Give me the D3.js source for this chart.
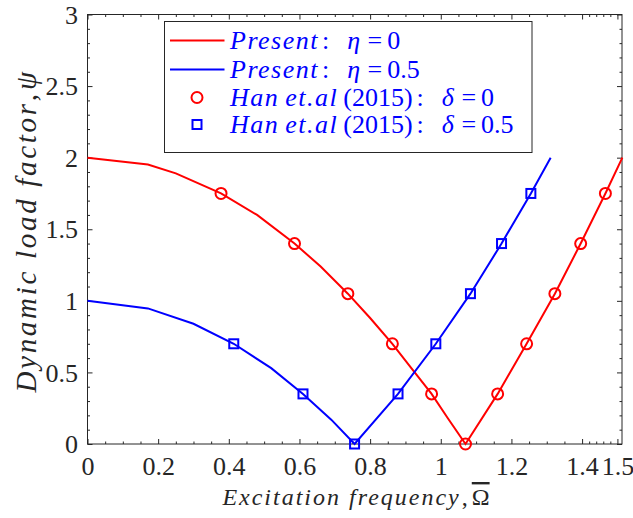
<!DOCTYPE html>
<html>
<head>
<meta charset="utf-8">
<script src="https://cdn.jsdelivr.net/npm/d3@7"></script>
<style>
  body { margin: 0; background: #fff; }
  svg { display: block; }
</style>
</head>
<body>
<div id="chart"></div>
<script>
const width = 633, height = 518;
const margin = { top: 14.5, right: 11, bottom: 74, left: 87.5 };

// data
const redLineX = [0, 0.171, 0.25, 0.378, 0.48, 0.586, 0.66, 0.737, 0.80, 0.863, 0.92, 0.974, 1.02, 1.07, 1.161, 1.243, 1.323, 1.396, 1.466, 1.514];
const redLineY = [2, 1.952, 1.89, 1.75, 1.60, 1.40, 1.24, 1.05, 0.88, 0.70, 0.52, 0.35, 0.18, 0, 0.35, 0.70, 1.05, 1.40, 1.75, 2.0];
const blueLineX = [0, 0.171, 0.3, 0.414, 0.52, 0.61, 0.69, 0.756, 0.879, 0.986, 1.084, 1.172, 1.255, 1.311];
const blueLineY = [1, 0.947, 0.84, 0.70, 0.53, 0.35, 0.17, 0, 0.35, 0.70, 1.05, 1.40, 1.75, 2.0];
const redMarkX = [0.378, 0.586, 0.737, 0.863, 0.974, 1.07, 1.161, 1.243, 1.323, 1.396, 1.466];
const redMarkY = [1.75, 1.4, 1.05, 0.7, 0.35, 0, 0.35, 0.7, 1.05, 1.4, 1.75];
const blueMarkX = [0.414, 0.61, 0.756, 0.879, 0.986, 1.084, 1.172, 1.255];
const blueMarkY = [0.7, 0.35, 0, 0.35, 0.7, 1.05, 1.4, 1.75];

const xTicks = [0, 0.2, 0.4, 0.6, 0.8, 1, 1.2, 1.4, 1.5];
const xMinor = [0.05, 0.1, 0.15, 0.25, 0.3, 0.35, 0.45, 0.5, 0.55, 0.65, 0.7, 0.75, 0.85, 0.9, 0.95,
                1.05, 1.1, 1.15, 1.25, 1.3, 1.35, 1.42, 1.44, 1.46, 1.48];
const yTicks = [0, 0.5, 1, 1.5, 2, 2.5, 3];
const yMinor = [0.1, 0.2, 0.3, 0.4, 0.6, 0.7, 0.8, 0.9, 1.1, 1.2, 1.3, 1.4, 1.6, 1.7, 1.8, 1.9,
                2.1, 2.2, 2.3, 2.4, 2.6, 2.7, 2.8, 2.9];

const red = "#ff0000", blue = "#0000ff", ink = "#262626";
const serif = "'Liberation Serif', 'Times New Roman', serif";

const svg = d3.select("#chart").append("svg")
    .attr("width", width)
    .attr("height", height);

const innerWidth = width - margin.left - margin.right;
const innerHeight = height - margin.top - margin.bottom;

const x = d3.scaleLinear().domain([0, 1.513]).range([0, innerWidth]);
const y = d3.scaleLinear().domain([0, 3]).range([innerHeight, 0]);

const g = svg.append("g").attr("transform", `translate(${margin.left}, ${margin.top})`);

// axes with inward ticks (all four sides)
function styleAxis(sel) {
    sel.select(".domain").remove();
    sel.selectAll("line").attr("stroke", ink).attr("stroke-width", 1);
    sel.selectAll("text").attr("fill", ink).style("font-family", serif).style("font-size", "26px");
}
function bare(sel) {
    styleAxis(sel);
    sel.selectAll("text").remove();
}

const fmt = d => d3.format("~g")(d);

g.append("g").attr("transform", `translate(0, ${innerHeight})`)
    .call(d3.axisBottom(x).tickValues(xTicks).tickSize(-5).tickFormat(fmt))
    .call(styleAxis)
    .selectAll("text").attr("y", 31).attr("dy", null);
g.append("g").attr("transform", `translate(0, ${innerHeight})`)
    .call(d3.axisBottom(x).tickValues(xMinor).tickSize(-2.5))
    .call(bare);
g.append("g")
    .call(d3.axisTop(x).tickValues(xTicks).tickSize(-5))
    .call(bare);
g.append("g")
    .call(d3.axisTop(x).tickValues(xMinor).tickSize(-2.5))
    .call(bare);

g.append("g")
    .call(d3.axisLeft(y).tickValues(yTicks).tickSize(-5).tickFormat(fmt))
    .call(styleAxis)
    .selectAll("text").attr("x", -9.5).attr("dy", "0.33em");
g.append("g")
    .call(d3.axisLeft(y).tickValues(yMinor).tickSize(-2.5))
    .call(bare);
g.append("g").attr("transform", `translate(${innerWidth}, 0)`)
    .call(d3.axisRight(y).tickValues(yTicks).tickSize(-5))
    .call(bare);
g.append("g").attr("transform", `translate(${innerWidth}, 0)`)
    .call(d3.axisRight(y).tickValues(yMinor).tickSize(-2.5))
    .call(bare);

// box
g.append("rect")
    .attr("width", innerWidth).attr("height", innerHeight)
    .attr("fill", "none").attr("stroke", ink).attr("stroke-width", 1);

// lines
const line = d3.line().x(d => x(d[0])).y(d => y(d[1]));
const plot = g.append("g");

plot.append("path")
    .datum(d3.zip(redLineX, redLineY))
    .attr("d", line).attr("fill", "none")
    .attr("stroke", red).attr("stroke-width", 2);
plot.append("path")
    .datum(d3.zip(blueLineX, blueLineY))
    .attr("d", line).attr("fill", "none")
    .attr("stroke", blue).attr("stroke-width", 2);

// markers
plot.selectAll(".circ")
    .data(d3.zip(redMarkX, redMarkY)).enter().append("circle")
    .attr("cx", d => x(d[0])).attr("cy", d => y(d[1]))
    .attr("r", 5.5)
    .attr("fill", "none").attr("stroke", red).attr("stroke-width", 2);
plot.selectAll(".sq")
    .data(d3.zip(blueMarkX, blueMarkY)).enter().append("rect")
    .attr("x", d => x(d[0]) - 4.5).attr("y", d => y(d[1]) - 4.5)
    .attr("width", 9).attr("height", 9)
    .attr("fill", "none").attr("stroke", blue).attr("stroke-width", 2);

// axis labels
const xl = svg.append("text")
    .attr("x", 356).attr("y", 505)
    .attr("text-anchor", "middle")
    .attr("fill", ink)
    .style("font-family", serif).style("font-size", "24px");
xl.append("tspan").style("font-style", "italic").style("letter-spacing", "2px").text("Excitation frequency");
xl.append("tspan").attr("dx", 1).text(",");
xl.append("tspan").attr("dx", 4).style("text-decoration", "overline").text("Ω");

const yl = svg.append("text")
    .attr("transform", `translate(36, ${margin.top + innerHeight / 2 + 3}) rotate(-90)`)
    .attr("text-anchor", "middle")
    .attr("fill", ink)
    .style("font-family", serif).style("font-size", "29px");
yl.append("tspan").style("font-style", "italic").style("letter-spacing", "2.7px").text("Dynamic load factor");
yl.append("tspan").text(",");
yl.append("tspan").attr("dx", 4).style("font-style", "italic").text("ψ");

// legend: each part is [text, italic, gap before]
const legendItems = [
    { kind: "line", color: red, parts: [["Present", 1, 0], [":", 0, 3], ["η", 1, 18], ["=", 0, 6], ["0", 0, 5]] },
    { kind: "line", color: blue, parts: [["Present", 1, 0], [":", 0, 3], ["η", 1, 18], ["=", 0, 6], ["0.5", 0, 5]] },
    { kind: "circle", color: red, parts: [["Han", 1, 0], ["et.al", 1, 6], ["(2015)", 0, 5], [":", 0, 4], ["δ", 1, 18], ["=", 0, 6], ["0", 0, 5]] },
    { kind: "square", color: blue, parts: [["Han", 1, 0], ["et.al", 1, 6], ["(2015)", 0, 5], [":", 0, 4], ["δ", 1, 18], ["=", 0, 6], ["0.5", 0, 5]] }
];

const lg = svg.append("g");
lg.append("rect")
    .attr("x", 164.5).attr("y", 21.5).attr("width", 367.5).attr("height", 131)
    .attr("fill", "#fff").attr("stroke", ink).attr("stroke-width", 1);

const rowY = [40.5, 69.5, 97.5, 124.5];
legendItems.forEach((d, i) => {
    const cy = rowY[i];
    if (d.kind === "line") {
        lg.append("line").attr("x1", 170).attr("x2", 224.5).attr("y1", cy).attr("y2", cy)
            .attr("stroke", d.color).attr("stroke-width", 2);
    } else if (d.kind === "circle") {
        lg.append("circle").attr("cx", 197).attr("cy", cy).attr("r", 5.5)
            .attr("fill", "none").attr("stroke", d.color).attr("stroke-width", 2);
    } else {
        lg.append("rect").attr("x", 192.5).attr("y", cy - 4.5).attr("width", 9).attr("height", 9)
            .attr("fill", "none").attr("stroke", d.color).attr("stroke-width", 2);
    }
    const t = lg.append("text")
        .attr("x", 230).attr("y", cy + 8)
        .attr("fill", blue)
        .style("font-family", serif).style("font-size", "26px");
    d.parts.forEach(p => {
        t.append("tspan")
            .attr("dx", p[2])
            .style("font-style", p[1] ? "italic" : "normal")
            .style("letter-spacing", p[1] ? "1.5px" : "0px")
            .text(p[0]);
    });
});
</script>
</body>
</html>
